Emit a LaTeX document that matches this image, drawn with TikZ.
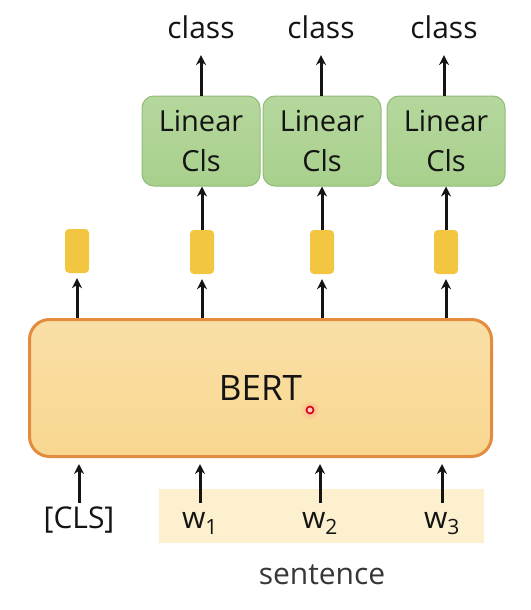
\documentclass[tikz,border=0pt]{standalone}
\usepackage{fontspec}
\setmainfont{Open Sans}
\usetikzlibrary{arrows.meta}
\definecolor{bertfill}{HTML}{F8D790}
\definecolor{bertline}{HTML}{E38B3E}
\definecolor{linfill}{HTML}{A8D08C}
\definecolor{linline}{HTML}{90BC78}
\definecolor{vecfill}{HTML}{F2C640}
\definecolor{sentband}{HTML}{FCF0CE}
\definecolor{txt}{HTML}{141414}
\tikzset{
  arr/.style={line width=3pt, -{Stealth[length=10pt,width=10pt]}, txt},
  bertbox/.style={rounded corners=20pt, line width=3pt, draw=bertline,
    top color=bertfill!80!white, bottom color=bertfill, minimum width=462pt,
    minimum height=137pt, font=\fontsize{35}{40}\selectfont, text=txt},
  vecbox/.style={rounded corners=4pt, fill=vecfill, minimum width=24pt,
    minimum height=44pt, inner sep=0pt},
  linbox/.style={rounded corners=12pt, line width=1pt, draw=linline,
    top color=linfill!85!white, bottom color=linfill, minimum width=118pt,
    minimum height=90pt, align=center, text=txt,
    font=\fontsize{29}{40}\selectfont},
  lbl/.style={font=\fontsize{30}{36}\selectfont, text=txt},
  token/.style={lbl, anchor=base, text height=22pt, inner sep=3pt}
}
\begin{document}
\begin{tikzpicture}[x=1pt, y=-1pt]
    \useasboundingbox (0,0) rectangle (530,610);
    % sentence band
    \node[fill=sentband, minimum width=325pt, minimum height=54pt] (band) at (321,516) {};
    \node[lbl, text=txt!85] (sentence) at (322,575) {sentence};
    % BERT
    \node[bertbox] (bert) at (260.5,388) {BERT};
    \shade[inner color=red!35, outer color=bertfill] (310,410) circle (9);
    \draw[red!85!black, line width=1.6pt, fill=red!20] (310,410) circle (3.5);
    % inputs
    \node[token] (cls) at (79,528) {[CLS]};
    \node[token] (w1) at (200,528) {w\textsubscript{1}};
    \node[token] (w2) at (320,528) {w\textsubscript{2}};
    \node[token] (w3) at (442,528) {w\textsubscript{3}};
    \foreach \t in {cls,w1,w2,w3}
        \draw[arr, shorten >=6pt] (\t.north) -- (\t.north |- bert.south);
    % output vectors
    \node[vecbox] (v0) at (77,251) {};
    \node[vecbox] (v1) at (202,252) {};
    \node[vecbox] (v2) at (322,252) {};
    \node[vecbox] (v3) at (446,252) {};
    \foreach \v in {v0,v1,v2,v3}
        \draw[arr, shorten >=5pt] (bert.north -| \v.south) -- (\v.south);
    % classifiers
    \node[linbox] (lin1) at (201,141) {Linear\\Cls};
    \node[linbox] (lin2) at (322,141) {Linear\\Cls};
    \node[linbox] (lin3) at (446,141) {Linear\\Cls};
    \node[lbl] (c1) at (201,27) {class};
    \node[lbl] (c2) at (321,27) {class};
    \node[lbl] (c3) at (444,27) {class};
    \foreach \i in {1,2,3} {
        \draw[arr] (v\i.north) -- (v\i.north |- lin\i.south);
        \draw[arr, shorten >=13pt] (lin\i.north -| c\i) -- (c\i.south);
    }
\end{tikzpicture}
\end{document}
